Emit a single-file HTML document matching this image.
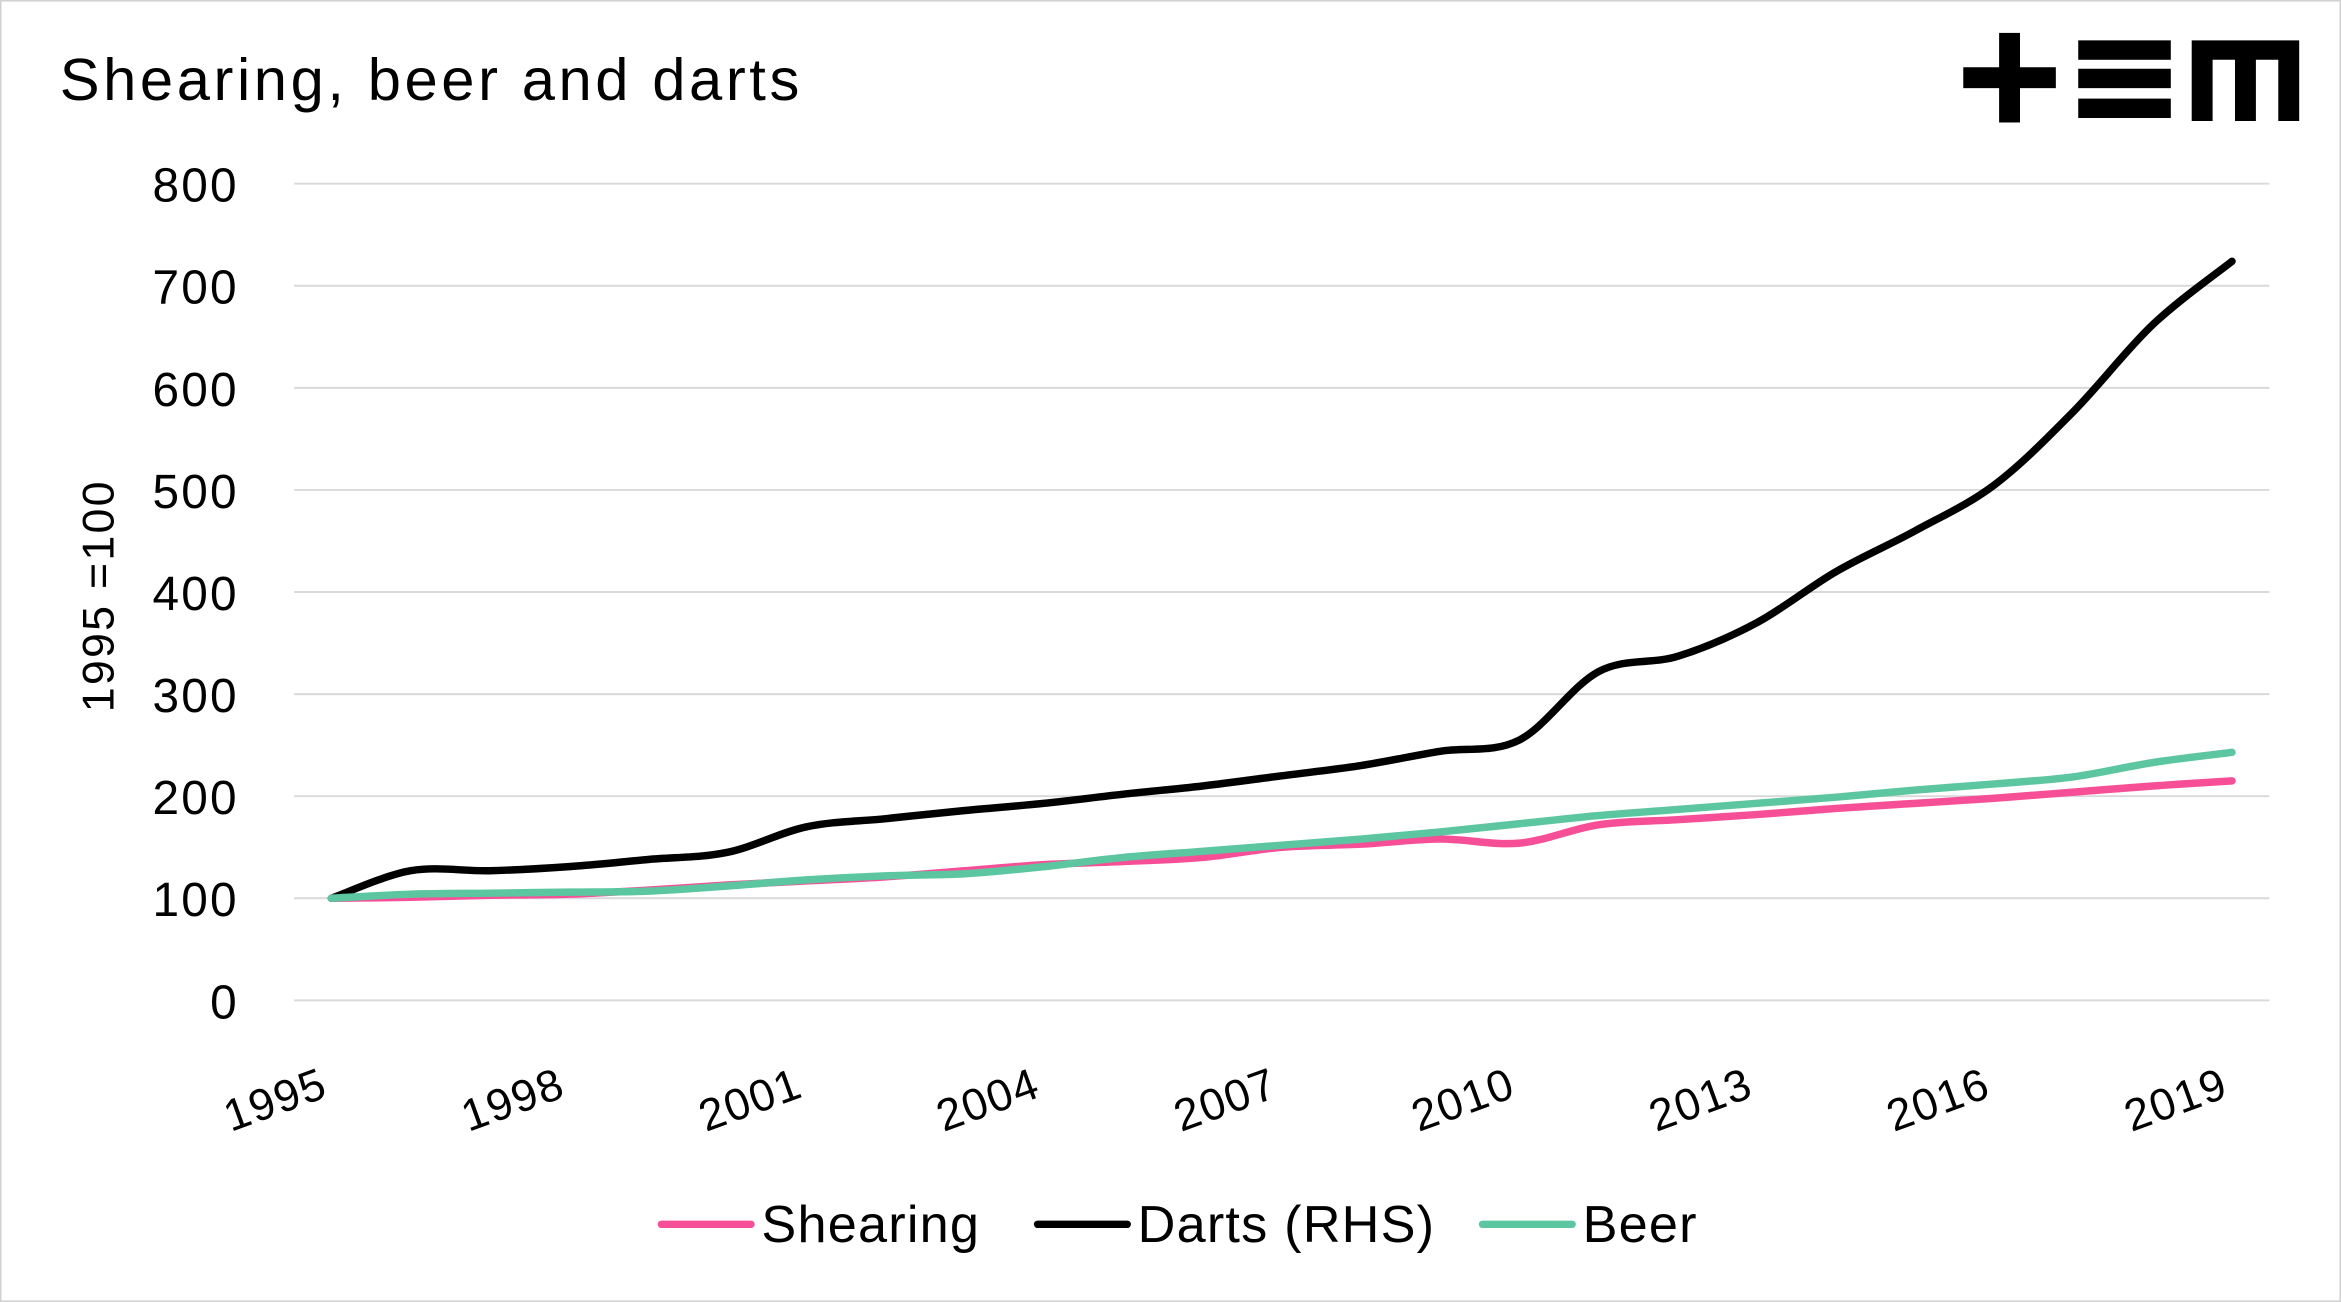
<!DOCTYPE html>
<html><head><meta charset="utf-8"><style>
html,body{margin:0;padding:0;background:#fff}
svg{display:block}
text{font-family:"Liberation Sans",sans-serif;fill:#000}
</style></head><body>
<svg width="2341" height="1302" viewBox="0 0 1568 872">
<rect x="0.5" y="0.5" width="1567" height="871" fill="#fff" stroke="#d0d0d0"/>
<text x="40" y="67" font-size="40" letter-spacing="2.4">Shearing, beer and darts</text>
<g fill="#000">
<rect x="1315" y="45" width="62" height="14"/><rect x="1339" y="22" width="14" height="60"/>
<rect x="1392" y="27" width="62" height="13"/><rect x="1392" y="46" width="62" height="13"/><rect x="1392" y="66" width="62" height="13"/>
<path d="M1468 27 H1540 V81 H1526 V40 H1511 V81 H1497 V40 H1482 V81 H1468 Z"/>
</g>
<g id="grid"></g><g id="yticks"></g><g id="xticks"></g><g id="series"></g>
<text transform="translate(76,399) rotate(-90)" text-anchor="middle" font-size="30" letter-spacing="1.5">1995 =100</text>
<g>
<line x1="443" y1="820" x2="503" y2="820" stroke="#f64f98" stroke-width="5" stroke-linecap="round"/>
<text x="510" y="832" font-size="35" letter-spacing="0.8">Shearing</text>
<line x1="695" y1="820" x2="755" y2="820" stroke="#000" stroke-width="5" stroke-linecap="round"/>
<text x="762" y="832" font-size="35" letter-spacing="0.8">Darts (RHS)</text>
<line x1="993" y1="820" x2="1053" y2="820" stroke="#5cc6a0" stroke-width="5" stroke-linecap="round"/>
<text x="1060" y="832" font-size="35" letter-spacing="0.8">Beer</text>
</g>
</svg>
<script>
const years=[1995,1996,1997,1998,1999,2000,2001,2002,2003,2004,2005,2006,2007,2008,2009,2010,2011,2012,2013,2014,2015,2016,2017,2018,2019];
const darts=[100,127,127,131,138,145,170,178,186,193,202,210,220,230,244,255,322,337,370,420,460,505,577,662,724];
const shearing=[100,101,103,104,108,113,117,121,127,133,136,140,150,153,158,154,172,177,182,188,193,198,204,210,215];
const beer=[100,104,105,106,107,112,118,122,124,131,140,146,152,158,165,173,181,187,193,199,206,212,219,233,243];
const yTicks=[0,100,200,300,400,500,600,700,800];
const xLabels=[1995,1998,2001,2004,2007,2010,2013,2016,2019];
const NS='http://www.w3.org/2000/svg';
function xS(yr){return 222+(yr-1995)*(1495-222)/24;}
function yS(v){return 670-v*(670-123)/800;}
function mk(tag,attrs,parent){const e=document.createElementNS(NS,tag);for(const k in attrs)e.setAttribute(k,attrs[k]);parent.appendChild(e);return e;}
const grid=document.getElementById('grid'),yt=document.getElementById('yticks'),xt=document.getElementById('xticks'),ser=document.getElementById('series');
yTicks.forEach(v=>{
 const l=mk('line',{x1:197,x2:1520,y1:yS(v),y2:yS(v),stroke:'#d9d9d9','stroke-width':1.3},grid);
 
 
 const t=mk('text',{x:160,y:yS(v)+12,'text-anchor':'end','font-size':32,'letter-spacing':1.5},yt);
 t.textContent=v;
 
 
});
xLabels.forEach(y=>{
 const x=xS(y)-1,yy=734;
 const t=mk('text',{x:x,y:yy,'text-anchor':'end','font-size':30,'letter-spacing':1,transform:`rotate(-20 ${x} ${yy})`},xt);
 t.textContent=y;
 
 
});
function path(vals){
 const p=vals.map((v,i)=>[xS(years[i]),yS(v)]);
 let d=`M${p[0][0]},${p[0][1]}`;
 for(let i=0;i<p.length-1;i++){
  const p0=p[Math.max(i-1,0)],p1=p[i],p2=p[i+1],p3=p[Math.min(i+2,p.length-1)];
  const c1=[p1[0]+(p2[0]-p0[0])/6,p1[1]+(p2[1]-p0[1])/6];
  const c2=[p2[0]-(p3[0]-p1[0])/6,p2[1]-(p3[1]-p1[1])/6];
  d+=` C${c1[0]},${c1[1]} ${c2[0]},${c2[1]} ${p2[0]},${p2[1]}`;
 }
 return d;
}
[[shearing,'#f64f98','shearing-line'],[darts,'#000','darts-line'],[beer,'#5cc6a0','beer-line']].forEach(([v,c,n])=>{
 const e=mk('path',{d:path(v),fill:'none',stroke:c,'stroke-width':5,'stroke-linecap':'round','stroke-linejoin':'round'},ser);
 
 
});
</script>
</body></html>
